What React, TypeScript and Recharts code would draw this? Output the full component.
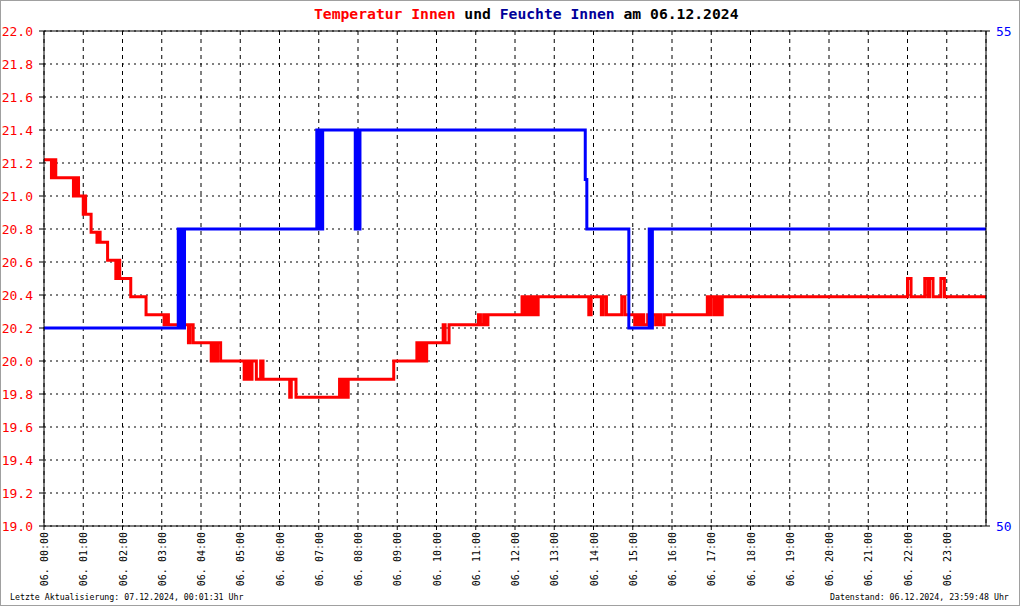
import React from 'react';
import {
  LineChart, Line, XAxis, YAxis, CartesianGrid, ReferenceLine
} from 'recharts';

// Stunden-Ticks auf der Zeitachse
const hourTicks = [0, 1, 2, 3, 4, 5, 6, 7, 8, 9, 10, 11, 12, 13, 14, 15, 16, 17, 18, 19, 20, 21, 22, 23];
const tempTicks = [19.0, 19.2, 19.4, 19.6, 19.8, 20.0, 20.2, 20.4, 20.6, 20.8, 21.0, 21.2, 21.4, 21.6, 21.8, 22.0];
const humTicks = [50, 55];

// Temperatur Innen [Stunde, °C] - Stufenwerte (Sensor in 0.2°F-Schritten)
const temperatur: [number, number][] = [
  [0, 21.22], [0.19, 21.11], [0.26, 21.22], [0.3, 21.11],
  [0.75, 21.0], [0.79, 21.11], [0.82, 21.0], [0.85, 21.11], [0.88, 21.0],
  [1.0, 20.89], [1.03, 21.0], [1.06, 20.89],
  [1.2, 20.78], [1.35, 20.72], [1.38, 20.78], [1.43, 20.72],
  [1.62, 20.61], [1.83, 20.5], [1.87, 20.61], [1.93, 20.5],
  [2.21, 20.39], [2.6, 20.28],
  [3.06, 20.22], [3.1, 20.28], [3.17, 20.22],
  [3.68, 20.11], [3.72, 20.22], [3.8, 20.11],
  [4.26, 20.0], [4.29, 20.11], [4.35, 20.0], [4.42, 20.11], [4.5, 20.0],
  [5.1, 19.89], [5.13, 20.0], [5.17, 19.89], [5.21, 20.0], [5.26, 19.89], [5.3, 20.0],
  [5.41, 19.89], [5.52, 20.0], [5.58, 19.89],
  [6.26, 19.78], [6.3, 19.89], [6.42, 19.78],
  [7.53, 19.89], [7.6, 19.78], [7.66, 19.89], [7.7, 19.78], [7.75, 19.89],
  [8.91, 20.0],
  [9.5, 20.11], [9.55, 20.0], [9.62, 20.11], [9.68, 20.0], [9.75, 20.11],
  [10.17, 20.22], [10.22, 20.11], [10.32, 20.22],
  [11.07, 20.28], [11.12, 20.22], [11.2, 20.28], [11.25, 20.22], [11.31, 20.28],
  [12.18, 20.39], [12.24, 20.28], [12.3, 20.39], [12.36, 20.28], [12.41, 20.39],
  [12.44, 20.28], [12.5, 20.39], [12.55, 20.28], [12.59, 20.39],
  [13.88, 20.28], [13.94, 20.39],
  [14.2, 20.28], [14.25, 20.39], [14.33, 20.28],
  [14.72, 20.39], [14.8, 20.28],
  [15.05, 20.22], [15.1, 20.28], [15.15, 20.22], [15.22, 20.28], [15.28, 20.22], [15.38, 20.28],
  [15.45, 20.22], [15.52, 20.28], [15.6, 20.22], [15.66, 20.28], [15.72, 20.22], [15.8, 20.28],
  [16.9, 20.39], [16.95, 20.28], [17.0, 20.39], [17.08, 20.28], [17.15, 20.39], [17.22, 20.28],
  [17.28, 20.39],
  [22.0, 20.5], [22.09, 20.39],
  [22.44, 20.5], [22.52, 20.39], [22.56, 20.5], [22.65, 20.39],
  [22.85, 20.5], [22.94, 20.39],
  [24, 20.39],
];

// Feuchte Innen [Stunde, %]
const feuchte: [number, number][] = [
  [0, 52],
  [3.42, 53], [3.46, 52], [3.5, 53], [3.54, 52], [3.58, 53],
  [6.95, 54], [7.0, 53], [7.03, 54], [7.07, 53], [7.1, 54],
  [7.93, 53], [7.97, 54], [8.0, 53], [8.05, 54],
  [13.79, 53.5], [13.83, 53],
  [14.9, 52],
  [15.42, 53], [15.46, 52], [15.5, 53],
  [24, 53],
];

const tempData = temperatur.map(([t, v]) => ({ t, temp: v }));
const humData = feuchte.map(([t, v]) => ({ t, hum: v }));

const MONO = "'DejaVu Sans Mono', monospace";

const HourTick = (props: any) => {
  const { x, y, payload } = props;
  const hh = String(payload.value).padStart(2, '0');
  return (
    <text
      x={0}
      y={0}
      transform={`translate(${x + 4},${y}) rotate(-90)`}
      textAnchor="end"
      fontSize={10}
      fontFamily={MONO}
      fill="#000"
    >
      {`06. ${hh}:00`}
    </text>
  );
};

const App: React.FC = () => {
  return (
    <div
      style={{
        position: 'absolute', left: 0, top: 0, width: 1020, height: 606,
        background: '#fff', boxSizing: 'border-box', border: '1px solid #a0a0a0',
        overflow: 'hidden',
      }}
    >
      <div
        style={{
          position: 'absolute', left: 313, top: 5, whiteSpace: 'nowrap',
          fontFamily: MONO, fontWeight: 'bold', fontSize: 14.7, lineHeight: '15px',
        }}
      >
        <span style={{ color: '#ff0000' }}>Temperatur Innen</span>
        <span style={{ color: '#000' }}> und </span>
        <span style={{ color: '#000099' }}>Feuchte Innen</span>
        <span style={{ color: '#000' }}> am 06.12.2024</span>
      </div>

      <div style={{ position: 'absolute', left: -1, top: -1 }}>
        <LineChart width={1020} height={606} margin={{ top: 31, right: 0, bottom: 20, left: 0 }}>
          <CartesianGrid
            yAxisId="left"
            vertical={false}
            stroke="#000"
            strokeDasharray="2 4"
          />
          <CartesianGrid
            yAxisId="left"
            horizontal={false}
            stroke="#000"
            strokeDasharray="4 4"
          />
          <XAxis
            type="number"
            dataKey="t"
            domain={[0, 24]}
            ticks={hourTicks}
            interval={0}
            height={60}
            stroke="#000"
            tickSize={4}
            tickMargin={2}
            tick={<HourTick />}
            allowDataOverflow
          />
          <YAxis
            yAxisId="left"
            orientation="left"
            width={44}
            domain={[19, 22]}
            ticks={tempTicks}
            interval={0}
            stroke="#000"
            tickSize={5}
            tickMargin={6}
            tick={{ fill: '#ff0000', fontSize: 13, fontFamily: MONO }}
            tickFormatter={(v: number) => v.toFixed(1)}
            allowDataOverflow
          />
          <YAxis
            yAxisId="right"
            orientation="right"
            width={34}
            domain={[50, 55]}
            ticks={humTicks}
            interval={0}
            stroke="#000"
            tickSize={4}
            tickMargin={6}
            tick={{ fill: '#0000ff', fontSize: 13, fontFamily: MONO }}
            allowDataOverflow
          />
          <ReferenceLine yAxisId="left" y={22} stroke="#000" strokeWidth={1} />
          <Line
            yAxisId="left"
            data={tempData}
            dataKey="temp"
            type="stepAfter"
            stroke="#ff0000"
            strokeWidth={3}
            dot={false}
            isAnimationActive={false}
          />
          <Line
            yAxisId="right"
            data={humData}
            dataKey="hum"
            type="stepAfter"
            stroke="#0000ff"
            strokeWidth={3}
            dot={false}
            isAnimationActive={false}
          />
        </LineChart>
      </div>

      <div
        style={{
          position: 'absolute', left: 9, top: 592, whiteSpace: 'nowrap',
          fontFamily: MONO, fontSize: 8.25, lineHeight: '9px', color: '#000',
        }}
      >
        Letzte Aktualisierung: 07.12.2024, 00:01:31 Uhr
      </div>
      <div
        style={{
          position: 'absolute', left: 829, top: 592, whiteSpace: 'nowrap',
          fontFamily: MONO, fontSize: 8.25, lineHeight: '9px', color: '#000',
        }}
      >
        Datenstand: 06.12.2024, 23:59:48 Uhr
      </div>
    </div>
  );
};

export default App;
